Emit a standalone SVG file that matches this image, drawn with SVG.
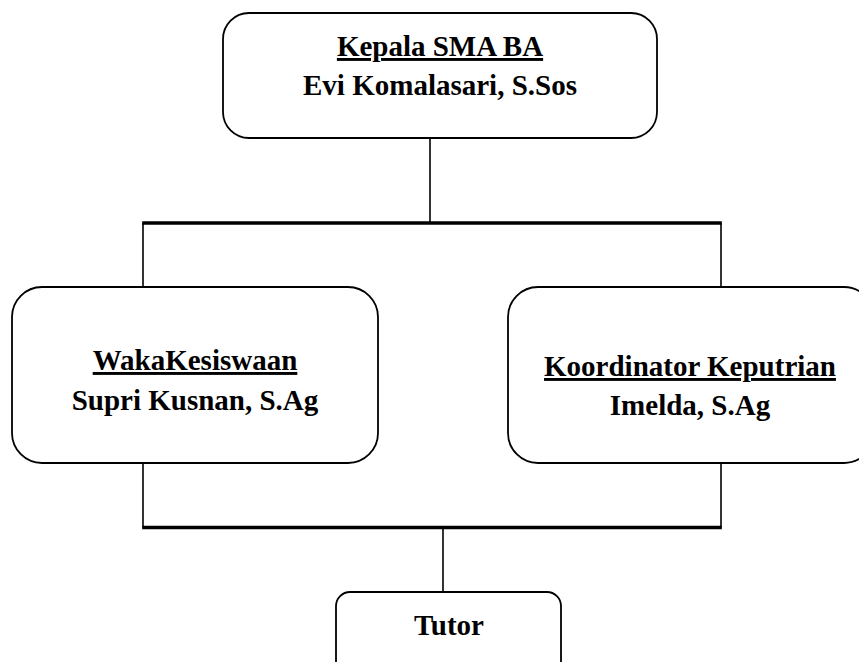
<svg xmlns="http://www.w3.org/2000/svg" width="859" height="662" viewBox="0 0 859 662">
<style>
.box{fill:#fff;stroke:#000;stroke-width:1.8}
.thin{stroke:#000;stroke-width:1.6;fill:none}
.bus{stroke:#000;stroke-width:3.5;fill:none}
text{font-family:"Liberation Serif","Times New Roman",serif;font-weight:bold;font-size:29px;fill:#000;text-anchor:middle}
.u{text-decoration:underline}
</style>
<rect width="859" height="662" fill="#fff"/>
<g id="connectors">
<line class="thin" x1="430" y1="138" x2="430" y2="223"/>
<line class="thin" x1="143" y1="223" x2="143" y2="288"/>
<line class="thin" x1="721" y1="223" x2="721" y2="288"/>
<line class="bus" x1="142.2" y1="223" x2="721.8" y2="223"/>
<line class="thin" x1="143" y1="463" x2="143" y2="527.5"/>
<line class="thin" x1="721" y1="463" x2="721" y2="527.5"/>
<line class="bus" x1="142.2" y1="527.5" x2="721.8" y2="527.5"/>
<line class="thin" x1="443" y1="527.5" x2="443" y2="592"/>
</g>
<g id="kepala">
<rect class="box" x="223" y="13" width="434" height="125" rx="26"/>
<text x="440" y="56" class="u">Kepala SMA BA</text>
<text x="440" y="95">Evi Komalasari, S.Sos</text>
</g>
<g id="waka">
<rect class="box" x="12" y="287" width="366" height="176" rx="30"/>
<text x="195" y="370" class="u">WakaKesiswaan</text>
<text x="195" y="410">Supri Kusnan, S.Ag</text>
</g>
<g id="koordinator">
<rect class="box" x="508" y="287" width="366" height="176" rx="30"/>
<text x="690" y="376" class="u">Koordinator Keputrian</text>
<text x="690" y="415">Imelda, S.Ag</text>
</g>
<g id="tutor">
<rect class="box" x="336" y="592" width="225" height="100" rx="14"/>
<text x="449" y="635">Tutor</text>
</g>
</svg>
